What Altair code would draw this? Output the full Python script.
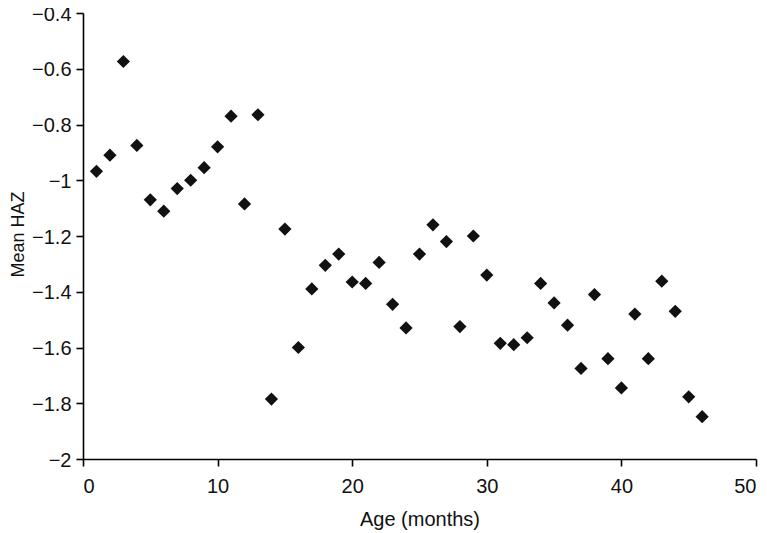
import altair as alt
import pandas as pd

age_months = [1, 2, 3, 4, 5, 6, 7, 8, 9, 10, 11, 12, 13, 14, 15, 16, 17, 18, 19, 20, 21, 22, 23,
              24, 25, 26, 27, 28, 29, 30, 31, 32, 33, 34, 35, 36, 37, 38, 39, 40, 41, 42, 43, 44, 45, 46]
mean_haz = [-0.968, -0.91, -0.574, -0.875, -1.07, -1.111, -1.03, -1.0, -0.955, -0.88, -0.77, -1.085,
            -0.765, -1.785, -1.175, -1.6, -1.39, -1.305, -1.265, -1.365, -1.37, -1.295, -1.445,
            -1.53, -1.265, -1.16, -1.22, -1.525, -1.2, -1.34, -1.585, -1.59, -1.565, -1.37, -1.44,
            -1.52, -1.675, -1.41, -1.64, -1.745, -1.48, -1.64, -1.362, -1.47, -1.777, -1.848]
x_ticks = [0, 10, 20, 30, 40, 50]
y_ticks = [-2, -1.8, -1.6, -1.4, -1.2, -1, -0.8, -0.6, -0.4]

df = pd.DataFrame({"age": age_months, "haz": mean_haz})

FONT = "Liberation Sans, Arial, Helvetica, sans-serif"

chart = alt.Chart(df).mark_point(
    shape="diamond", filled=True, size=175, color="#111111", opacity=1
).encode(
    x=alt.X("age:Q", scale=alt.Scale(domain=[0, 50], nice=False, zero=False),
            axis=alt.Axis(values=x_ticks, title="Age (months)", grid=False,
                          format="d", labelPadding=10, labelFontSize=20,
                          titleFontSize=20, titleBaseline="top", titleY=50)),
    y=alt.Y("haz:Q", scale=alt.Scale(domain=[-2, -0.4], nice=False, zero=False),
            axis=alt.Axis(values=y_ticks, title="Mean HAZ", grid=False,
                          format="~g", labelPadding=5, labelOffset=1, labelFontSize=20,
                          titleFontSize=18, titleAngle=-90, titleBaseline="top",
                          titleAlign="center", titleX=-74, titleY=221)),
).properties(
    width=673, height=446,
    autosize=alt.AutoSizeParams(type="none"),
    padding={"left": 75, "top": 5, "right": 2, "bottom": 74},
).configure_view(
    stroke=None
).configure_axis(
    domainColor="#000000", domainWidth=1.6, tickColor="#000000", tickWidth=1.6, tickSize=7,
    labelFont=FONT, labelColor="#111111",
    titleFont=FONT, titleFontWeight="normal", titleColor="#111111",
)

chart.save("out.html", embed_options={"renderer": "svg", "actions": False})
